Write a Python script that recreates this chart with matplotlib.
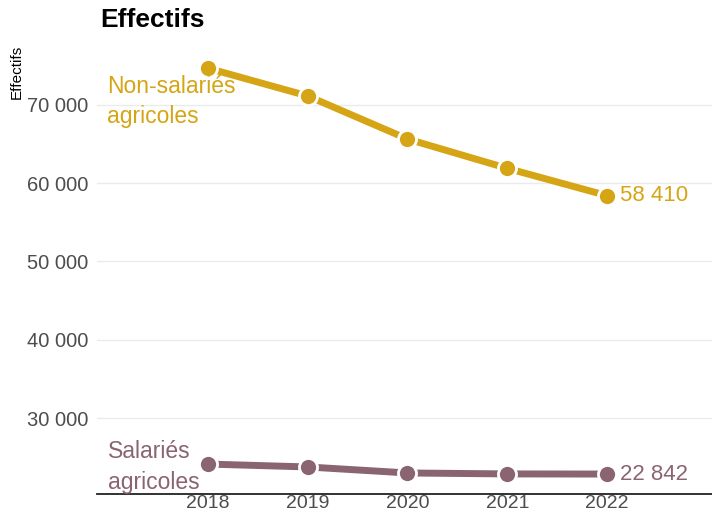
import matplotlib.pyplot as plt
from matplotlib.ticker import FuncFormatter

plt.rcParams['font.family'] = ['Liberation Sans', 'DejaVu Sans']

years = [2018, 2019, 2020, 2021, 2022]
non_salaries = [74700, 71150, 65650, 61900, 58410]
salaries = [24120, 23750, 22980, 22860, 22842]
y_ticks = [30000, 40000, 50000, 60000, 70000]

gold = '#d5a515'
mauve = '#8a6571'


def fmt(v, pos=None):
    return f"{int(round(v)):,}".replace(",", " ")


fig = plt.figure(figsize=(7.12, 5.14), dpi=100)
# axes from x=97 px to the right edge, y=40 px to 494 px
ax = fig.add_axes([97 / 712, 20 / 514, 1 - 97 / 712, 454 / 514])

for vals, col in [(non_salaries, gold), (salaries, mauve)]:
    ax.plot(years, vals, color=col, lw=5, solid_capstyle='butt', zorder=3)
    ax.plot(years, vals, 'o', color=col, ms=13, mec='white', mew=2, zorder=4)
    ax.text(years[-1] + 0.13, vals[-1], fmt(vals[-1]), color=col,
            fontsize=16, va='center', ha='left', zorder=5)

ax.text(2016.99, 70450, "Non-salariés\nagricoles", color=gold, fontsize=16.5,
        va='center', ha='left', linespacing=1.35, zorder=5)
ax.text(2017.0, 23750, "Salariés\nagricoles", color=mauve, fontsize=16.5,
        va='center', ha='left', linespacing=1.4, zorder=5)

ax.set_xlim(2016.89, 2023.05)
ax.set_ylim(20294, 78300)
ax.set_xticks(years)
ax.set_yticks(y_ticks)
ax.yaxis.set_major_formatter(FuncFormatter(fmt))
ax.tick_params(axis='both', length=0, labelsize=14.5, colors='#4d4d4d')
ax.tick_params(axis='y', pad=6)
ax.tick_params(axis='x', pad=1, labelsize=14)
ax.grid(axis='y', color='#ebebeb', lw=1)
ax.set_axisbelow(True)
for s in ['top', 'right', 'left']:
    ax.spines[s].set_visible(False)
ax.spines['bottom'].set_color('#222222')
ax.spines['bottom'].set_linewidth(1.3)

fig.text(100 / 712, 1 - 20 / 514, "Effectifs", fontsize=19, fontweight='bold',
         va='center', ha='left')
fig.text(17 / 712, 1 - 72 / 514, "Effectifs", fontsize=11, rotation=90,
         va='center', ha='center')

fig.savefig('out.png', dpi=100)
